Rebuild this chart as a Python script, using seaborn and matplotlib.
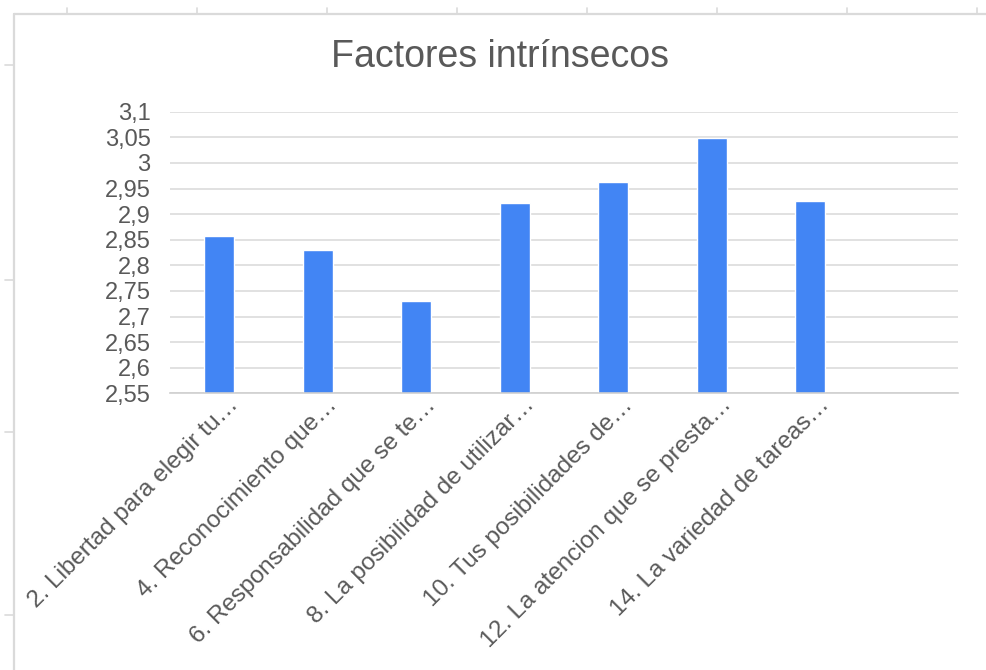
import matplotlib
matplotlib.use("Agg")
import matplotlib.pyplot as plt
from matplotlib.lines import Line2D
from matplotlib.transforms import ScaledTranslation
import seaborn as sns
import pandas as pd

# Item labels (truncated as shown on the axis) and mean scores
categorias = [
    "2. Libertad para elegir tu…",
    "4. Reconocimiento que…",
    "6. Responsabilidad que se te…",
    "8. La posibilidad de utilizar…",
    "10. Tus posibilidades de…",
    "12. La atencion que se presta…",
    "14. La variedad de tareas…",
]
valores = [2.858, 2.830, 2.731, 2.922, 2.962, 3.049, 2.926]

y_ticks = [2.55, 2.60, 2.65, 2.70, 2.75, 2.80, 2.85, 2.90, 2.95, 3.00, 3.05, 3.10]
y_tick_labels = ["2,55", "2,6", "2,65", "2,7", "2,75", "2,8", "2,85", "2,9",
                 "2,95", "3", "3,05", "3,1"]
titulo = "Factores intrínsecos"

sns.set_theme(style="white")
plt.rcParams["font.family"] = ["Liberation Sans", "DejaVu Sans"]

TEXT = "#595959"
GRID = "#d9d9d9"
BLUE = "#4285f4"

W, H = 986, 670
fig = plt.figure(figsize=(W / 100, H / 100), dpi=100)
ax = fig.add_axes([170 / W, 1 - 393.3 / H, (958 - 170) / W, (393.3 - 111.7) / H])

df = pd.DataFrame({"item": categorias, "valor": valores})
sns.barplot(data=df, x="item", y="valor", order=categorias, color=BLUE,
            saturation=1, width=0.305, ax=ax, zorder=3)

ax.set_xlim(-0.5, len(categorias) + 0.5)
ax.set_ylim(2.55, 3.10)
ax.set_yticks(y_ticks)
ax.set_yticklabels(y_tick_labels)
ax.set_xlabel("")
ax.set_ylabel("")

for y in y_ticks:
    ax.axhline(y, color=GRID, lw=1.1, zorder=1)

for s in ["top", "right", "left"]:
    ax.spines[s].set_visible(False)
ax.spines["bottom"].set_color("#cfcfcf")
ax.spines["bottom"].set_linewidth(1.2)
ax.spines["bottom"].set_zorder(4)

ax.tick_params(axis="y", length=0, pad=14, labelsize=17, labelcolor=TEXT)
ax.tick_params(axis="x", length=0, pad=6, labelsize=17.5, labelcolor=TEXT)

offset = ScaledTranslation(0.16, 0, fig.dpi_scale_trans)
for lbl in ax.get_xticklabels():
    lbl.set_rotation(45)
    lbl.set_ha("right")
    lbl.set_va("center")
    lbl.set_rotation_mode("anchor")
    lbl.set_transform(lbl.get_transform() + offset)

fig.text(500 / W, 1 - 67 / H, titulo, ha="center", va="baseline",
         fontsize=27, color=TEXT)

# Sheet frame around the chart area
FRAME = "#dadada"
fy = 1 - 14 / H
fx = 14 / W
fig.add_artist(Line2D([fx, 1], [fy, fy], color=FRAME, lw=1.6))
fig.add_artist(Line2D([fx, fx], [0, fy], color=FRAME, lw=1.6))
for x in [67, 197, 327, 457, 587, 717, 847, 977]:
    fig.add_artist(Line2D([x / W, x / W], [fy, 1 - 8 / H], color=FRAME, lw=1.2))
for y in [65, 280, 432, 615]:
    fig.add_artist(Line2D([5 / W, fx], [1 - y / H, 1 - y / H], color=FRAME, lw=1.2))

fig.savefig("out.png", dpi=100, facecolor="white")
